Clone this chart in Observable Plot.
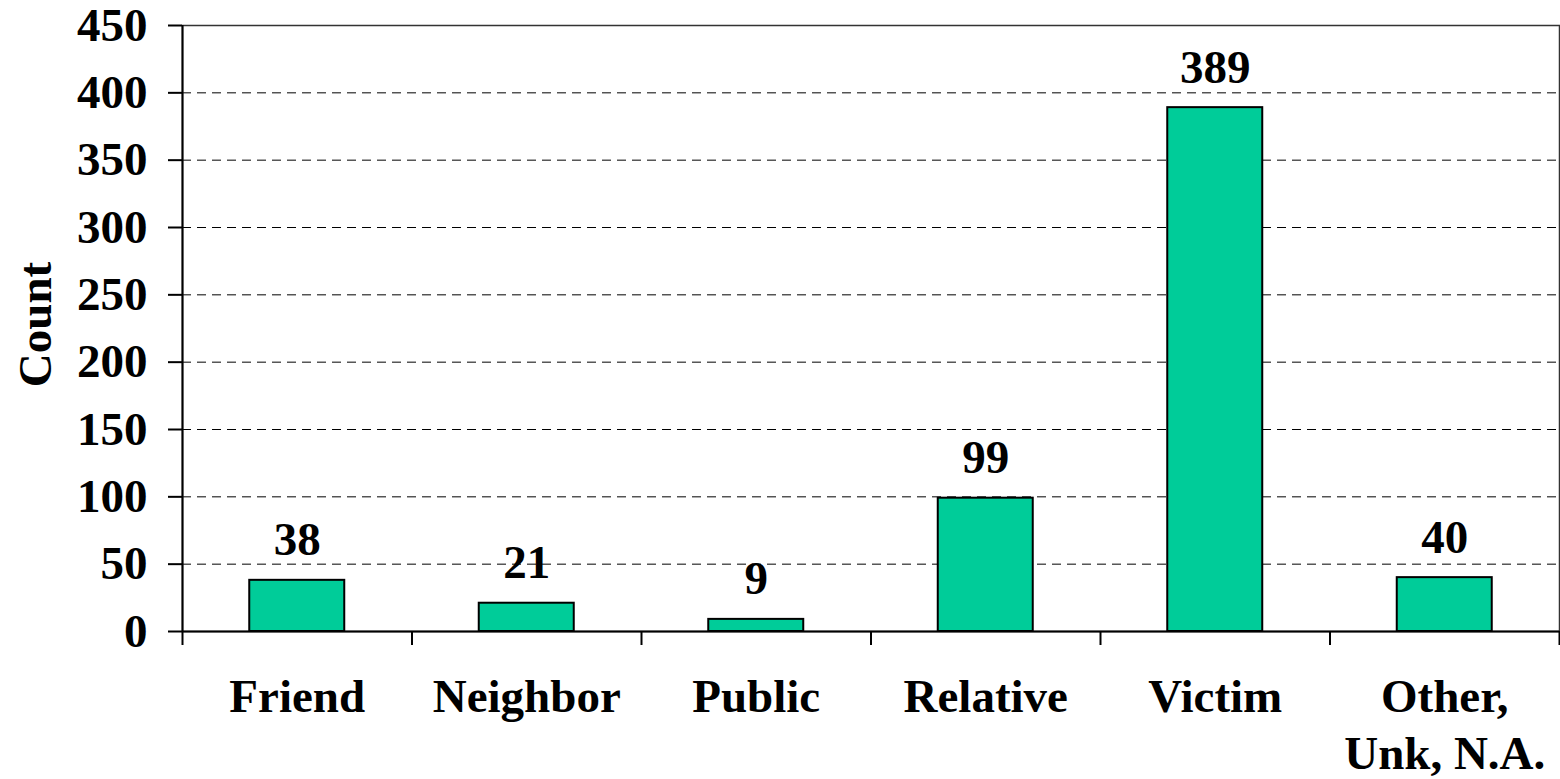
<!DOCTYPE html>
<html>
<head>
<meta charset="utf-8">
<script src="https://cdn.jsdelivr.net/npm/d3@7"></script>
<script src="https://cdn.jsdelivr.net/npm/@observablehq/plot@0.6"></script>
<style>
  html, body { margin: 0; padding: 0; background: white; }
</style>
</head>
<body>
<div id="chart"></div>
<script>
const categories = ["Friend", "Neighbor", "Public", "Relative", "Victim", "Other,\nUnk, N.A."];
const counts = [38, 21, 9, 99, 389, 40];
const yTicks = [0, 50, 100, 150, 200, 250, 300, 350, 400, 450];
const gridValues = [50, 100, 150, 200, 250, 300, 350, 400];
const yLabel = "Count";

const data = categories.map((c, i) => ({category: c, count: counts[i]}));

const W = 1560, H = 779;
const mL = 182, mR = 1, mT = 25, mB = 148;
const step = (W - mL - mR) / categories.length;
const barWidth = 95;
const inset = (step - barWidth) / 2;
const frameH = H - mT - mB;
const font = "'Liberation Serif', 'Times New Roman', serif";
const fs = 47;

const chart = Plot.plot({
  width: W,
  height: H,
  marginLeft: mL,
  marginRight: mR,
  marginTop: mT,
  marginBottom: mB,
  style: {fontFamily: font, fontSize: fs + "px", fontWeight: "bold", color: "black", background: "white"},
  x: {type: "band", domain: categories, padding: 0, round: false, axis: null},
  y: {domain: [0, 450], axis: null},
  marks: [
    Plot.ruleY(gridValues, {stroke: "black", strokeWidth: 1, strokeDasharray: "9,6"}),
    Plot.frame({stroke: "#333", strokeWidth: 1.5}),
    Plot.barY(data, {x: "category", y: "count", fill: "#00CC99", stroke: "black", strokeWidth: 2, insetLeft: inset, insetRight: inset}),
    Plot.ruleY([0], {stroke: "black", strokeWidth: 2}),
    Plot.axisY(yTicks, {tickSize: 14, tickPadding: 21, strokeWidth: 2, fontSize: fs, fontWeight: "bold", label: null}),
    Plot.ruleX([categories[0]], {dx: -step / 2, insetBottom: -14, stroke: "black", strokeWidth: 2}),
    Plot.ruleX(categories.slice(1), {dx: -step / 2, insetTop: frameH, insetBottom: -14, stroke: "black", strokeWidth: 2}),
    Plot.ruleX([categories[categories.length - 1]], {dx: step / 2, insetTop: frameH, insetBottom: -14, stroke: "black", strokeWidth: 2}),
    Plot.text(data, {x: "category", y: "count", text: d => String(d.count), dy: -40, fontSize: fs, fontWeight: "bold", fill: "black"}),
    Plot.text(categories, {x: d => d, text: d => d, frameAnchor: "bottom", lineAnchor: "top", dy: 40, lineHeight: 1.21, fontSize: fs, fontWeight: "bold", fill: "black"}),
    Plot.text([yLabel], {text: d => d, frameAnchor: "left", textAnchor: "middle", rotate: -90, dx: -147, dy: -4, fontSize: fs, fontWeight: "bold", fill: "black"})
  ]
});

document.getElementById("chart").appendChild(chart);
</script>
</body>
</html>
